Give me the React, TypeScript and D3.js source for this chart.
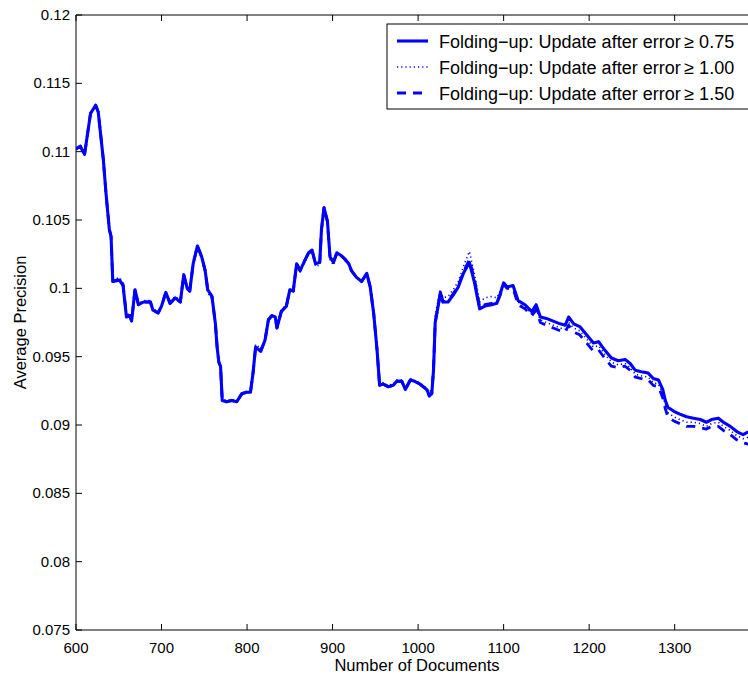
import React from "react";
import * as d3 from "d3";

const xs = [600,605,610,617,623,626,632,635,639,641,643,651,655,659,663,665,669,673,679,687,690,696,700,705,710,716,722,726,730,733,737,742,747,751,754,759,763,765,767,769,771,776,782,788,794,800,804,807,810,816,821,825,829,833,835,840,846,850,854,858,862,868,872,876,880,885,887,890,894,897,901,905,910,915,919,922,928,934,940,944,948,952,955,959,965,971,975,981,985,991,996,1002,1010,1013,1016,1018,1020,1024,1026,1029,1035,1041,1047,1053,1060,1066,1072,1078,1086,1092,1096,1100,1104,1111,1117,1125,1133,1138,1143,1150,1158,1166,1172,1176,1182,1189,1197,1205,1211,1218,1226,1234,1242,1248,1254,1261,1269,1275,1281,1286,1289,1292,1299,1306,1314,1322,1330,1337,1343,1351,1357,1365,1373,1380,1386];

const ySolid = [.1102,.1104,.1098,.1128,.1134,.1129,.1094,.1070,.1043,.1038,.1005,.1006,.1002,.0979,.0980,.0976,.0999,.0988,.0990,.0990,.0984,.0982,.0987,.0997,.0989,.0993,.0990,.1010,.1000,.0998,.1018,.1031,.1023,.1013,.0999,.0994,.0974,.0957,.0946,.0943,.0918,.0917,.0918,.0917,.0923,.0924,.0924,.0938,.0957,.0954,.0962,.0977,.0980,.0979,.0971,.0983,.0987,.0999,.0998,.1018,.1013,.1021,.1026,.1028,.1018,.1019,.1043,.1059,.1049,.1023,.1019,.1026,.1024,.1021,.1018,.1013,.1008,.1005,.1011,.1001,.0982,.0955,.0929,.0930,.0928,.0929,.0932,.0932,.0926,.0933,.0932,.0930,.0926,.0922,.0923,.0940,.0975,.0989,.0997,.0990,.0990,.0995,.1001,.1011,.1019,.1004,.0985,.0987,.0988,.0989,.0996,.1004,.1001,.1002,.0991,.0988,.0983,.0988,.0979,.0978,.0976,.0974,.0973,.0979,.0974,.0972,.0966,.0960,.0961,.0955,.0949,.0947,.0948,.0945,.0940,.0939,.0938,.0934,.0933,.0926,.0918,.0913,.0910,.0908,.0906,.0905,.0904,.0902,.0904,.0905,.0902,.0899,.0895,.0893,.0895];

const yDotted = [.1102,.1104,.1099,.1128,.1134,.1129,.1094,.1070,.1043,.1038,.1006,.1008,.1004,.0981,.0981,.0977,.0999,.0989,.0991,.0991,.0985,.0983,.0987,.0996,.0990,.0994,.0991,.1009,.1001,.0999,.1018,.1031,.1023,.1012,.0997,.0992,.0972,.0956,.0946,.0943,.0919,.0918,.0918,.0918,.0923,.0925,.0925,.0940,.0959,.0956,.0963,.0978,.0981,.0978,.0970,.0984,.0988,.0999,.0997,.1017,.1012,.1020,.1025,.1027,.1016,.1017,.1042,.1058,.1048,.1021,.1017,.1025,.1024,.1020,.1017,.1013,.1008,.1005,.1011,.1001,.0982,.0955,.0930,.0931,.0929,.0930,.0933,.0933,.0927,.0934,.0932,.0931,.0927,.0924,.0926,.0945,.0980,.0993,.0999,.0993,.0994,.0999,.1005,.1016,.1027,.1010,.0990,.0993,.0994,.0993,.0998,.1004,.1001,.1001,.0990,.0986,.0981,.0985,.0977,.0975,.0973,.0971,.0970,.0975,.0971,.0969,.0963,.0957,.0958,.0952,.0946,.0944,.0945,.0942,.0937,.0936,.0935,.0931,.0930,.0923,.0915,.0909,.0906,.0904,.0902,.0902,.0901,.0899,.0901,.0902,.0899,.0896,.0892,.0890,.0891];

const yDashed = [.1102,.1104,.1098,.1128,.1134,.1129,.1094,.1070,.1043,.1038,.1005,.1007,.1003,.0980,.0980,.0976,.0999,.0988,.0990,.0990,.0984,.0982,.0987,.0997,.0989,.0993,.0990,.1010,.1000,.0998,.1018,.1031,.1023,.1013,.0999,.0994,.0974,.0957,.0946,.0943,.0918,.0917,.0918,.0917,.0923,.0924,.0924,.0938,.0957,.0954,.0962,.0977,.0980,.0979,.0971,.0983,.0987,.0999,.0998,.1018,.1013,.1021,.1026,.1028,.1018,.1019,.1043,.1059,.1049,.1023,.1019,.1026,.1024,.1021,.1018,.1013,.1008,.1005,.1011,.1001,.0982,.0955,.0929,.0930,.0928,.0929,.0932,.0932,.0926,.0933,.0932,.0930,.0926,.0921,.0923,.0940,.0975,.0989,.0997,.0990,.0991,.0996,.1002,.1012,.1021,.1006,.0986,.0988,.0989,.0989,.0995,.1003,.1000,.1000,.0988,.0985,.0980,.0984,.0975,.0973,.0971,.0969,.0968,.0973,.0968,.0966,.0960,.0954,.0955,.0949,.0943,.0942,.0943,.0940,.0935,.0934,.0933,.0929,.0928,.0920,.0912,.0906,.0903,.0901,.0899,.0899,.0898,.0897,.0899,.0899,.0896,.0893,.0889,.0887,.0886];

const xTicks = [600, 700, 800, 900, 1000, 1100, 1200, 1300];
const yTicks = [0.075, 0.08, 0.085, 0.09, 0.095, 0.1, 0.105, 0.11, 0.115, 0.12];
const yTickLabels = ["0.075", "0.08", "0.085", "0.09", "0.095", "0.1", "0.105", "0.11", "0.115", "0.12"];
const legendLabels = [
  "Folding\u2212up: Update after error\u2009\u2265 0.75",
  "Folding\u2212up: Update after error\u2009\u2265 1.00",
  "Folding\u2212up: Update after error\u2009\u2265 1.50",
];

const W = 748, H = 676;
const L = 76, R = 760.2, T = 15, B = 630;
const BLUE = "#0000ff";
const FONT = "'Liberation Sans', Arial, Helvetica, sans-serif";

export default function App() {
  const x = d3.scaleLinear().domain([600, 1400]).range([L, R]);
  const y = d3.scaleLinear().domain([0.075, 0.12]).range([B, T]);
  const mk = (ys: number[]) =>
    d3.line<number>().x((_, i) => x(xs[i])).y((v) => y(v))(ys) || "";
  const styles = [
    { d: mk(ySolid), w: 3.1, dash: undefined as string | undefined },
    { d: mk(yDotted), w: 1.6, dash: "1.2,3" },
    { d: mk(yDashed), w: 2.8, dash: "9,7" },
  ];
  return (
    <svg width={W} height={H} style={{ position: "absolute", left: 0, top: 0, background: "#fff" }} fontFamily={FONT}>
      <rect x={0} y={0} width={W} height={H} fill="#fff" />
      <defs>
        <clipPath id="plotclip">
          <rect x={L} y={T} width={R - L} height={B - T} />
        </clipPath>
      </defs>
      <line x1={L} y1={B} x2={R} y2={B} stroke="#000" strokeWidth={1} />
      <line x1={L} y1={T} x2={R} y2={T} stroke="#000" strokeWidth={1} />
      <line x1={L} y1={T} x2={L} y2={B} stroke="#000" strokeWidth={1} />
      {xTicks.map((t) => (
        <g key={"xt" + t}>
          <line x1={x(t)} x2={x(t)} y1={B} y2={B - 6} stroke="#000" />
          <line x1={x(t)} x2={x(t)} y1={T} y2={T + 6} stroke="#000" />
          <text x={x(t)} y={653} fontSize={15} textAnchor="middle" fill="#000">{t}</text>
        </g>
      ))}
      {yTicks.map((t, i) => (
        <g key={"yt" + t}>
          <line x1={L} x2={L + 6} y1={y(t)} y2={y(t)} stroke="#000" />
          <text x={70} y={y(t) + 5} fontSize={15} textAnchor="end" fill="#000">{yTickLabels[i]}</text>
        </g>
      ))}
      <text x={417} y={671} fontSize={16.5} textAnchor="middle" fill="#000">Number of Documents</text>
      <text transform={`translate(26,${(T + B) / 2}) rotate(-90)`} fontSize={16.5} textAnchor="middle" fill="#000">Average Precision</text>
      <g clipPath="url(#plotclip)">
        {styles.map((s, i) => (
          <path key={i} d={s.d} fill="none" stroke={BLUE} strokeWidth={s.w} strokeDasharray={s.dash} strokeLinejoin="round" />
        ))}
      </g>
      <rect x={387} y={24} width={380} height={85} fill="#fff" stroke="#000" strokeWidth={1} />
      {legendLabels.map((lab, i) => {
        const cy = 41 + i * 26;
        const s = styles[i];
        return (
          <g key={"lg" + i}>
            <line x1={397} x2={428} y1={cy} y2={cy} stroke={BLUE} strokeWidth={s.w} strokeDasharray={s.dash} />
            <text x={439} y={cy + 7} fontSize={18} fill="#000">{lab}</text>
          </g>
        );
      })}
    </svg>
  );
}
